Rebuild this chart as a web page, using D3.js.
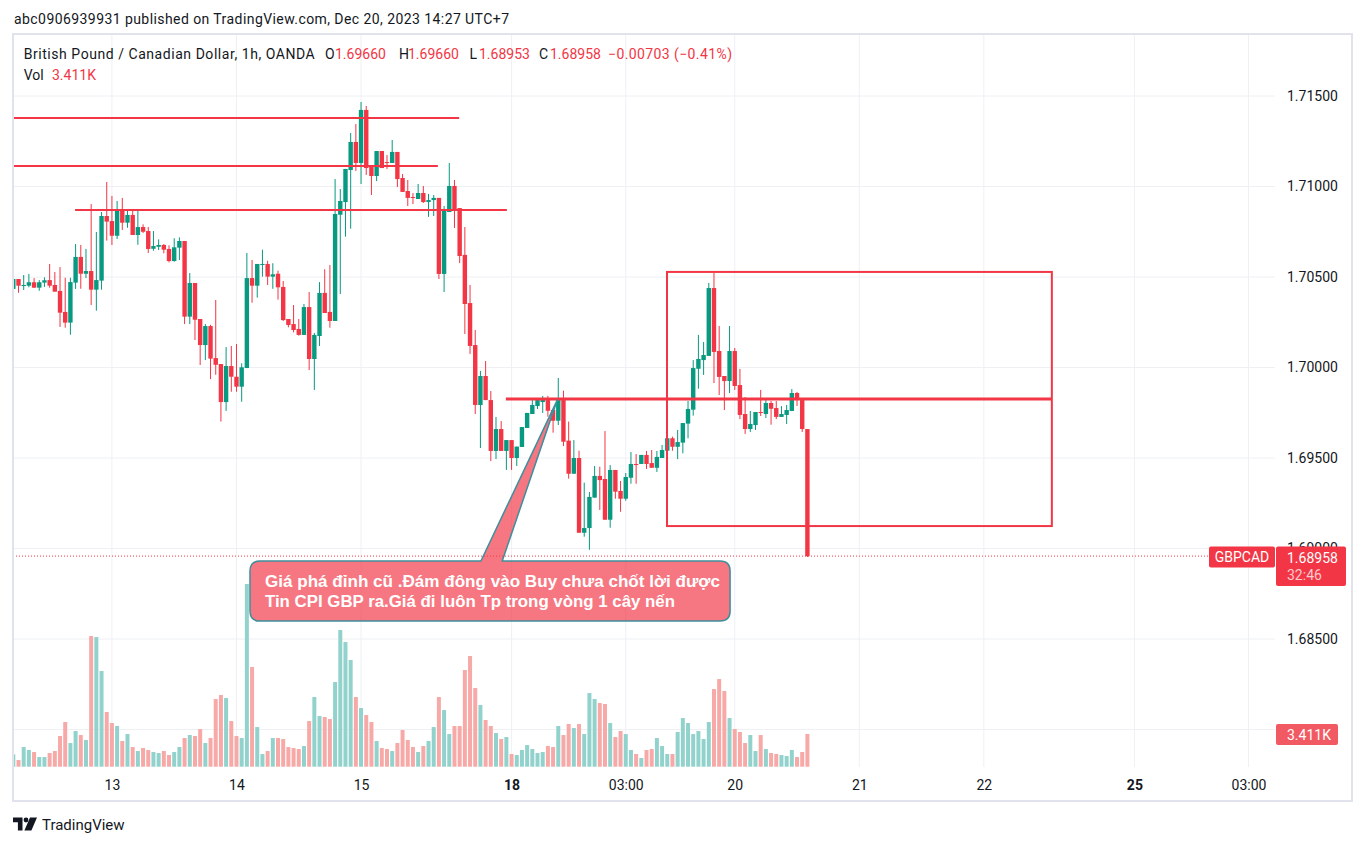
<!DOCTYPE html>
<html><head><meta charset="utf-8">
<script src="https://cdn.jsdelivr.net/npm/d3@7"></script>
<style>
html,body{margin:0;padding:0;background:#fff;}
svg{display:block;font-family:Roboto,"Noto Sans",sans-serif;}
</style></head><body>
<svg id="chart" width="1364" height="846"></svg>
<script>
// ---------------- DATA (bar index -1 .. 152, hourly, GBPCAD) ----------------
const firstBar = -1;
const openP = [
1.70434,1.70489,1.70450,1.70452,1.70471,1.70441,1.70469,1.70483,1.70456,1.70423,
1.70307,1.70248,1.70469,1.70611,1.70518,1.70533,1.70430,1.70480,1.70837,1.70809,
1.70728,1.70870,1.70800,1.70843,1.70732,1.70776,1.70754,1.70656,1.70667,1.70677,
1.70655,1.70588,1.70662,1.70699,1.70281,1.70467,1.70268,1.70124,1.70229,1.70052,
1.70019,1.69809,1.70008,1.69949,1.69894,1.69997,1.70494,1.70452,1.70568,1.70572,
1.70502,1.70518,1.70445,1.70268,1.70240,1.70213,1.70180,1.70334,1.70047,1.70174,
1.70412,1.70307,1.70257,1.70844,1.70914,1.71091,1.71246,1.71130,1.71423,1.71113,
1.71058,1.71196,1.71135,1.71130,1.71191,1.71047,1.70975,1.70942,1.70931,1.70964,
1.70914,1.70925,1.70937,1.70517,1.70859,1.71003,1.70881,1.70622,1.70356,1.70124,
1.69793,1.69953,1.69820,1.69539,1.69660,1.69539,1.69599,1.69500,1.69561,1.69666,
1.69743,1.69787,1.69809,1.69820,1.69765,1.69706,1.69820,1.69596,1.69413,1.69500,
1.69087,1.69113,1.69281,1.69401,1.69384,1.69159,1.69434,1.69318,1.69275,1.69391,
1.69467,1.69467,1.69517,1.69472,1.69446,1.69500,1.69540,1.69609,1.69562,1.69585,
1.69690,1.69767,1.69993,1.70041,1.70064,1.70439,1.70091,1.69953,1.69925,1.70091,
1.69903,1.69743,1.69660,1.69682,1.69754,1.69743,1.69804,1.69776,1.69727,1.69738,
1.69760,1.69859,1.69820,1.69660];
const highP = [
1.70500,1.70489,1.70511,1.70517,1.70494,1.70483,1.70498,1.70572,1.70528,1.70555,
1.70496,1.70496,1.70682,1.70677,1.70655,1.70903,1.70749,1.70859,1.71025,1.70948,
1.70920,1.70937,1.70865,1.70865,1.70865,1.70791,1.70776,1.70754,1.70708,1.70682,
1.70675,1.70714,1.70719,1.70699,1.70522,1.70467,1.70268,1.70240,1.70236,1.70373,
1.70019,1.70113,1.70119,1.70130,1.70023,1.70633,1.70594,1.70572,1.70651,1.70590,
1.70576,1.70535,1.70478,1.70268,1.70345,1.70268,1.70351,1.70417,1.70191,1.70472,
1.70543,1.70566,1.71041,1.70986,1.71097,1.71296,1.71345,1.71467,1.71445,1.71113,
1.71196,1.71196,1.71174,1.71257,1.71191,1.71069,1.71036,1.70964,1.71014,1.71003,
1.70959,1.70953,1.70937,1.70892,1.71130,1.71036,1.70881,1.70776,1.70456,1.70207,
1.69981,1.70036,1.69870,1.69727,1.69704,1.69599,1.69599,1.69563,1.69671,1.69749,
1.69831,1.69831,1.69843,1.69843,1.69765,1.69942,1.69872,1.69701,1.69599,1.69540,
1.69364,1.69312,1.69456,1.69452,1.69649,1.69461,1.69434,1.69373,1.69417,1.69533,
1.69522,1.69517,1.69539,1.69544,1.69539,1.69572,1.69610,1.69618,1.69655,1.69693,
1.69815,1.70041,1.70180,1.70141,1.70467,1.70522,1.70229,1.69953,1.70229,1.70108,
1.69992,1.69837,1.69760,1.69754,1.69876,1.69820,1.69815,1.69815,1.69787,1.69793,
1.69881,1.69865,1.69820,1.69660];
const lowP = [
1.70417,1.70413,1.70428,1.70443,1.70441,1.70424,1.70445,1.70441,1.70419,1.70224,
1.70220,1.70181,1.70434,1.70435,1.70494,1.70345,1.70314,1.70430,1.70701,1.70677,
1.70710,1.70760,1.70772,1.70732,1.70678,1.70743,1.70633,1.70645,1.70649,1.70631,
1.70581,1.70585,1.70594,1.70240,1.70240,1.70152,1.70014,1.70041,1.69936,1.69960,
1.69701,1.69760,1.69866,1.69866,1.69811,1.69997,1.70358,1.70386,1.70502,1.70456,
1.70435,1.70375,1.70257,1.70222,1.70194,1.70176,1.70180,1.69986,1.69876,1.70119,
1.70301,1.70220,1.70257,1.70406,1.70723,1.70767,1.71086,1.71014,1.71064,1.70953,
1.71030,1.71102,1.71097,1.71130,1.70997,1.70970,1.70892,1.70903,1.70931,1.70909,
1.70832,1.70837,1.70489,1.70417,1.70859,1.70771,1.70577,1.70185,1.70075,1.69743,
1.69555,1.69820,1.69483,1.69494,1.69539,1.69434,1.69434,1.69456,1.69561,1.69666,
1.69743,1.69771,1.69749,1.69728,1.69640,1.69682,1.69566,1.69386,1.69413,1.69087,
1.69065,1.68993,1.69281,1.69213,1.69159,1.69115,1.69275,1.69203,1.69264,1.69358,
1.69358,1.69467,1.69439,1.69446,1.69423,1.69500,1.69540,1.69540,1.69494,1.69526,
1.69609,1.69734,1.69883,1.69959,1.70064,1.69914,1.69848,1.69765,1.69859,1.69876,
1.69715,1.69633,1.69644,1.69655,1.69732,1.69721,1.69684,1.69715,1.69727,1.69688,
1.69760,1.69787,1.69644,1.68953];
const closeP = [
1.70489,1.70452,1.70456,1.70471,1.70441,1.70471,1.70482,1.70452,1.70419,1.70303,
1.70248,1.70472,1.70611,1.70518,1.70533,1.70430,1.70483,1.70837,1.70806,1.70728,
1.70870,1.70800,1.70843,1.70732,1.70776,1.70750,1.70655,1.70671,1.70677,1.70651,
1.70588,1.70664,1.70699,1.70281,1.70467,1.70264,1.70124,1.70229,1.70049,1.70015,
1.69809,1.70008,1.69949,1.69894,1.70001,1.70494,1.70452,1.70572,1.70572,1.70502,
1.70515,1.70443,1.70262,1.70235,1.70207,1.70180,1.70334,1.70047,1.70180,1.70412,
1.70301,1.70257,1.70848,1.70920,1.71097,1.71246,1.71130,1.71423,1.71102,1.71058,
1.71196,1.71102,1.71130,1.71191,1.71041,1.70970,1.70937,1.70937,1.70964,1.70914,
1.70925,1.70937,1.70517,1.70865,1.71003,1.70865,1.70616,1.70351,1.70119,1.69793,
1.69953,1.69820,1.69539,1.69660,1.69539,1.69599,1.69500,1.69563,1.69671,1.69749,
1.69793,1.69820,1.69826,1.69761,1.69706,1.69820,1.69590,1.69413,1.69500,1.69087,
1.69113,1.69285,1.69401,1.69378,1.69159,1.69434,1.69314,1.69275,1.69395,1.69467,
1.69461,1.69517,1.69467,1.69446,1.69506,1.69544,1.69609,1.69562,1.69588,1.69693,
1.69771,1.69997,1.70047,1.70069,1.70439,1.70086,1.69948,1.69925,1.70091,1.69898,
1.69738,1.69660,1.69688,1.69754,1.69750,1.69804,1.69772,1.69727,1.69743,1.69765,
1.69859,1.69820,1.69660,1.68958];
const volumes = [
1286,695,2051,1739,1530,1008,1008,1426,1634,3199,
4659,2469,3720,3303,2782,13630,13526,9979,5702,4555,
4242,2677,3407,2051,1634,1947,1739,1530,1426,1634,
1217,1530,2051,2990,3303,3199,3929,2469,2990,7058,
7476,7163,4763,3199,2990,19054,10396,4138,1321,1634,
2990,2990,2886,2051,1947,1843,2156,4763,7267,5285,
5181,4972,8832,14256,13004,11126,7267,6120,5389,4659,
2677,1947,1843,1634,2469,3825,2782,2051,1530,2156,
2677,4138,7267,5911,3407,4242,4242,10083,11544,8206,
6432,4868,4242,3512,2886,3095,1321,1217,1739,2260,
1843,1426,1530,2156,2051,4242,3303,4451,4033,4451,
3407,7684,7058,6641,6537,4555,3095,3720,3407,1739,
1321,904,1739,1843,2990,2156,1321,1321,3616,5076,
4555,3407,3720,2886,4659,8101,9145,7893,5076,3929,
3616,2469,3303,1634,3303,1843,1426,1321,1217,1113,
1739,1008,1530,3411];

// time axis: bar index of each label
const tickLabels = ["13","14","15","18","03:00","20","21","22","25","03:00"];
const tickBars   = [18, 42, 66, 95, 117, 138, 162, 186, 215, 237];
const tickBold   = [false,false,false,true,false,false,false,false,true,false];
const gridPrices  = [1.715,1.710,1.705,1.700,1.695,1.690,1.685,1.680];
const labelPrices = [1.715,1.710,1.705,1.700,1.695,1.690,1.685];

// drawings (bar index / price)
const hLineStart = [-2, -2, 10.9, 93.9];
const hLineEnd   = [84.9, 80.8, 94.1, 199.1];
const hLinePrice = [1.71379, 1.71113, 1.70870, 1.69826];
const hLineWidth = [2, 2, 2, 3];
const rectBars   = [124.95, 199.1];
const rectPrices = [1.70528, 1.69124];
const calloutBars   = [44.6, 137.1];
const calloutPrices = [1.68931, 1.68599];
const pointerBase   = [89.1, 93.2];
const pointerTip    = [103.8, 1.69820];
const calloutText = ["Giá phá đỉnh cũ .Đám đông vào Buy chưa chốt lời được",
                     "Tin CPI GBP ra.Giá đi luôn Tp trong vòng 1 cây nến"];
const lastPrice = 1.68958, lastVolume = "3.411K", symbol = "GBPCAD", countdown = "32:46";

// ---------------- RENDER ----------------
const UP = "#089981", DOWN = "#f23645";
const UPV = "#92d2cc", DOWNV = "#f7a9a7";
const TXT = "#131722", GRID = "#eef0f4";
const PL = 13, PR = 1275, PT = 35, PB = 767;

const svg = d3.select("#chart");
const x = d3.scaleLinear().domain([0, 152]).range([18.5, 807.4]);
const y = d3.scaleLinear().domain([1.685, 1.715]).range([639, 96]);
const yv = d3.scaleLinear().domain([0, 3411]).range([766.7, 734]);

svg.append("rect").attr("width",1364).attr("height",846).attr("fill","#fff");
svg.append("defs").append("clipPath").attr("id","pc").append("rect")
  .attr("x",PL).attr("y",PT).attr("width",PR-PL).attr("height",PB-PT);

const plot = svg.append("g").attr("clip-path","url(#pc)");

// grid
plot.selectAll("line.hg").data(gridPrices).join("line")
  .attr("x1",PL).attr("x2",PR).attr("y1",d=>y(d)).attr("y2",d=>y(d))
  .attr("stroke",GRID).attr("stroke-width",1);
plot.selectAll("line.vg").data(tickBars).join("line")
  .attr("x1",d=>x(d)).attr("x2",d=>x(d)).attr("y1",PT).attr("y2",PB)
  .attr("stroke",GRID).attr("stroke-width",1);

const bars = openP.map((o,k)=>({i:k+firstBar,o:o,h:highP[k],l:lowP[k],c:closeP[k],v:volumes[k]}));

// volume
plot.selectAll("rect.vol").data(bars).join("rect")
  .attr("x",d=>x(d.i)-2).attr("width",4)
  .attr("y",d=>yv(d.v)).attr("height",d=>yv(0)-yv(d.v))
  .attr("fill",d=>d.c>=d.o?UPV:DOWNV);

// candles
const cg = plot.append("g");
cg.selectAll("rect.wick").data(bars).join("rect")
  .attr("x",d=>x(d.i)-0.5).attr("width",1)
  .attr("y",d=>y(Math.max(d.h,d.o,d.c)))
  .attr("height",d=>Math.max(1,y(Math.min(d.l,d.o,d.c))-y(Math.max(d.h,d.o,d.c))))
  .attr("fill",d=>d.c>=d.o?UP:DOWN);
cg.selectAll("rect.body").data(bars).join("rect")
  .attr("x",d=>x(d.i)-2.2).attr("width",4.4)
  .attr("y",d=>y(Math.max(d.o,d.c)))
  .attr("height",d=>Math.max(1,Math.abs(y(d.o)-y(d.c))))
  .attr("fill",d=>d.c>=d.o?UP:DOWN);

// drawings
plot.selectAll("line.hl").data(hLinePrice).join("line")
  .attr("x1",(d,k)=>x(hLineStart[k])).attr("x2",(d,k)=>x(hLineEnd[k]))
  .attr("y1",d=>y(d)).attr("y2",d=>y(d))
  .attr("stroke",DOWN).attr("stroke-width",(d,k)=>hLineWidth[k]);
plot.append("rect")
  .attr("x",x(rectBars[0])).attr("y",y(rectPrices[0]))
  .attr("width",x(rectBars[1])-x(rectBars[0])).attr("height",y(rectPrices[1])-y(rectPrices[0]))
  .attr("fill","none").attr("stroke",DOWN).attr("stroke-width",2);

// current price dotted line
svg.append("line").attr("x1",PL).attr("x2",1209).attr("y1",y(lastPrice)).attr("y2",y(lastPrice))
  .attr("stroke",DOWN).attr("stroke-width",1).attr("stroke-dasharray","1,2");

// callout
{
  const L=x(calloutBars[0]), R=x(calloutBars[1]), T=y(calloutPrices[0]), B=y(calloutPrices[1]);
  const r=10, p0=x(pointerBase[0]), p1=x(pointerBase[1]), tx=x(pointerTip[0]), ty=y(pointerTip[1]);
  const p = `M${L+r},${T} H${p0} L${tx},${ty} L${p1},${T} H${R-r} Q${R},${T} ${R},${T+r} V${B-r} Q${R},${B} ${R-r},${B} H${L+r} Q${L},${B} ${L},${B-r} V${T+r} Q${L},${T} ${L+r},${T} Z`;
  svg.append("path").attr("d",p).attr("fill","rgba(242,54,69,0.68)")
    .attr("stroke","#3e8e9c").attr("stroke-width",1.5).attr("stroke-linejoin","round");
  const lens=[455,410];
  svg.selectAll("text.co").data(calloutText).join("text")
    .attr("x",L+15).attr("y",(d,k)=>T+26+k*20)
    .attr("font-family","'Liberation Sans',Arial,sans-serif").attr("font-weight","bold")
    .attr("font-size",16).attr("fill","#fff")
    .attr("textLength",(d,k)=>lens[k]).attr("lengthAdjust","spacingAndGlyphs")
    .text(d=>d);
}

// price axis
const ya = svg.append("g").attr("transform",`translate(1287,0)`)
  .call(d3.axisRight(y).tickValues(labelPrices).tickFormat(d3.format(".5f")).tickSize(0).tickPadding(0));
ya.select(".domain").remove();
ya.selectAll("text").attr("fill",TXT).attr("font-size",14).attr("font-family","Roboto,sans-serif");

// time axis
const xa = svg.append("g").attr("transform",`translate(0,780)`)
  .call(d3.axisBottom(x).tickValues(tickBars).tickFormat((d,k)=>tickLabels[k]).tickSize(0).tickPadding(0));
xa.select(".domain").remove();
xa.selectAll("text").attr("fill",TXT).attr("font-size",14).attr("font-family","Roboto,sans-serif")
  .attr("font-weight",(d,k)=>tickBold[k]?"bold":"normal");

// price labels
const yl = y(lastPrice);
svg.append("rect").attr("x",1209).attr("y",yl-9.5).attr("width",66).attr("height",21).attr("rx",2).attr("fill",DOWN);
svg.append("text").attr("x",1242).attr("y",yl+5.5).attr("text-anchor","middle").attr("fill","#fff")
  .attr("font-size",14).text(symbol);
svg.append("rect").attr("x",1276).attr("y",yl-9.5).attr("width",70).attr("height",39.5).attr("rx",2).attr("fill",DOWN);
svg.append("text").attr("x",1287).attr("y",yl+7).attr("fill","#fff").attr("font-size",14)
  .text(d3.format(".5f")(lastPrice));
svg.append("text").attr("x",1287).attr("y",yl+24).attr("fill","#fcc9cd").attr("font-size",14).text(countdown);
svg.append("rect").attr("x",1276).attr("y",yv(3411)-10).attr("width",62).attr("height",21).attr("rx",2).attr("fill","#f25a63");
svg.append("text").attr("x",1287).attr("y",yv(3411)+5.5).attr("fill","#fff").attr("font-size",14).text(lastVolume);

// frame
svg.append("rect").attr("x",13).attr("y",34).attr("width",1339).attr("height",767)
  .attr("fill","none").attr("stroke","#e0e3eb").attr("stroke-width",2);

// header
svg.append("text").attr("x",14).attr("y",24).attr("fill",TXT).attr("font-size",14)
  .attr("textLength",495).text("abc0906939931 published on TradingView.com, Dec 20, 2023 14:27 UTC+7");
const leg = [
  {t:"British Pound / Canadian Dollar, 1h, OANDA", x:23.7, c:TXT, w:291},
  {t:"O", x:325, c:TXT},{t:"1.69660", x:335, c:DOWN},
  {t:"H", x:399, c:TXT},{t:"1.69660", x:408, c:DOWN},
  {t:"L", x:469.5, c:TXT},{t:"1.68953", x:479, c:DOWN},
  {t:"C", x:539, c:TXT},{t:"1.68958", x:550, c:DOWN},
  {t:"\u22120.00703 (\u22120.41%)", x:608, c:DOWN, w:124}
];
leg.forEach(d=>{
  const t = svg.append("text").attr("x",d.x).attr("y",59).attr("fill",d.c).attr("font-size",14).text(d.t);
  if(d.w) t.attr("textLength",d.w);
});
svg.append("text").attr("x",23.7).attr("y",80).attr("fill",TXT).attr("font-size",14).text("Vol");
svg.append("text").attr("x",52).attr("y",80).attr("fill",DOWN).attr("font-size",14).text(lastVolume);

// TradingView logo
svg.append("path").attr("fill",TXT)
  .attr("d","M13,817.5 h9.5 v13 h-4.6 v-8.2 h-4.9 z M30,817.5 h7 l-5.6,13 h-7 z");
svg.append("circle").attr("cx",26).attr("cy",820).attr("r",2.4).attr("fill",TXT);
svg.append("text").attr("x",42).attr("y",830).attr("fill",TXT).attr("font-size",15).text("TradingView");
</script>
</body></html>
